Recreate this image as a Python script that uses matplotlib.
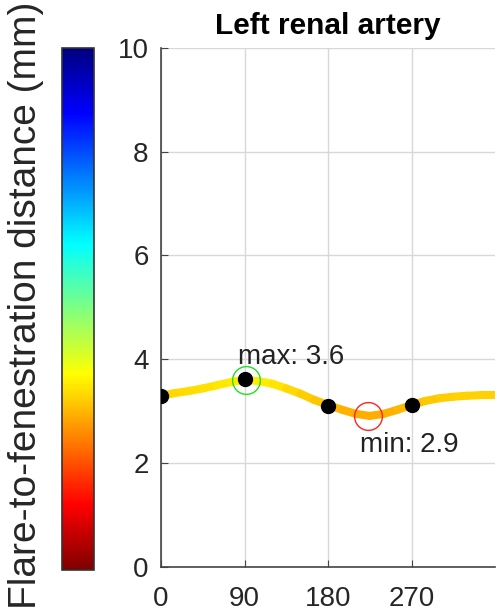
import numpy as np
import matplotlib
matplotlib.use("Agg")
import matplotlib.pyplot as plt
from matplotlib.collections import LineCollection
from matplotlib.colors import Normalize, LinearSegmentedColormap

plt.rcParams['font.family'] = ['Liberation Sans', 'DejaVu Sans']

# distancia leida a lo largo de la circunferencia (grados)
angulo = [0, 15, 30, 45, 60, 75, 90, 105, 120, 135, 150, 165, 180,
          195, 210, 225, 240, 255, 270, 285, 300, 315, 330, 345, 360]
distancia = [3.30, 3.35, 3.39, 3.44, 3.50, 3.56, 3.61, 3.58, 3.53, 3.44, 3.34, 3.22, 3.12,
             3.03, 2.95, 2.91, 2.95, 3.03, 3.12, 3.20, 3.25, 3.28, 3.30, 3.31, 3.31]

# puntos medidos
ang_med = [0, 90, 180, 270]
dist_med = [3.30, 3.62, 3.11, 3.12]

max_pt = (92, 3.6)
min_pt = (223, 2.9)

xticks = [0, 90, 180, 270]
yticks = [0, 2, 4, 6, 8, 10]

# jet al estilo matlab, invertido (rojo abajo, azul arriba)
jet_ml = LinearSegmentedColormap.from_list('jet_ml', [
    (0.0, (0, 0, 0.5)), (1/8, (0, 0, 1)), (3/8, (0, 1, 1)),
    (5/8, (1, 1, 0)), (7/8, (1, 0, 0)), (1.0, (0.5, 0, 0))])
cmap = jet_ml.reversed()
norm = Normalize(0, 10)

fig = plt.figure(figsize=(4.97, 6.13), dpi=100)
ax = fig.add_axes([0.324, 0.075, 0.672, 0.847])

x = np.array(angulo, dtype=float)
y = np.array(distancia)
pts = np.column_stack([x, y]).reshape(-1, 1, 2)
segs = np.concatenate([pts[:-1], pts[1:]], axis=1)
lc = LineCollection(segs, cmap=cmap, norm=norm, linewidth=5.8, capstyle='round', zorder=3)
lc.set_array((y[:-1] + y[1:]) / 2)
ax.add_collection(lc)

ax.plot(ang_med, dist_med, 'o', color='black', markersize=10, zorder=4)
ax.plot(*max_pt, 'o', mfc='none', mec='#22dd22', markersize=20, mew=1.0, zorder=5)
ax.plot(*min_pt, 'o', mfc='none', mec='#ff2222', markersize=20, mew=1.0, zorder=5)

ax.text(83, 4.05, f'max: {max_pt[1]:.1f}', fontsize=20, ha='left', va='center', color='#222222')
ax.text(214, 2.35, f'min: {min_pt[1]:.1f}', fontsize=20, ha='left', va='center', color='#222222')

ax.set_xlim(0, 360)
ax.set_ylim(0, 10)
ax.set_xticks(xticks)
ax.set_yticks(yticks)
ax.grid(True, color='#d8d8d8', linewidth=1)
ax.set_axisbelow(True)
for s in ['top', 'right']:
    ax.spines[s].set_visible(False)
for s in ['left', 'bottom']:
    ax.spines[s].set_color('#444444')
    ax.spines[s].set_linewidth(1.2)
ax.tick_params(direction='in', length=5, colors='#444444', labelcolor='#262626',
               labelsize=20)
ax.tick_params(axis='x', pad=14)
ax.tick_params(axis='y', pad=9)
ax.set_title('Left renal artery', fontsize=21.5, fontweight='bold', pad=10)

# barra de color
cax = fig.add_axes([0.125, 0.070, 0.064, 0.852])
cb = fig.colorbar(plt.cm.ScalarMappable(norm=norm, cmap=cmap), cax=cax)
cb.set_ticks([])
cb.outline.set_edgecolor('#333333')
cb.outline.set_linewidth(1.2)
fig.text(0.052, 0.502, 'Flare-to-fenestration distance (mm)', rotation=90,
         fontsize=28, ha='center', va='center', color='#262626')

fig.savefig('out.png', dpi=100)
